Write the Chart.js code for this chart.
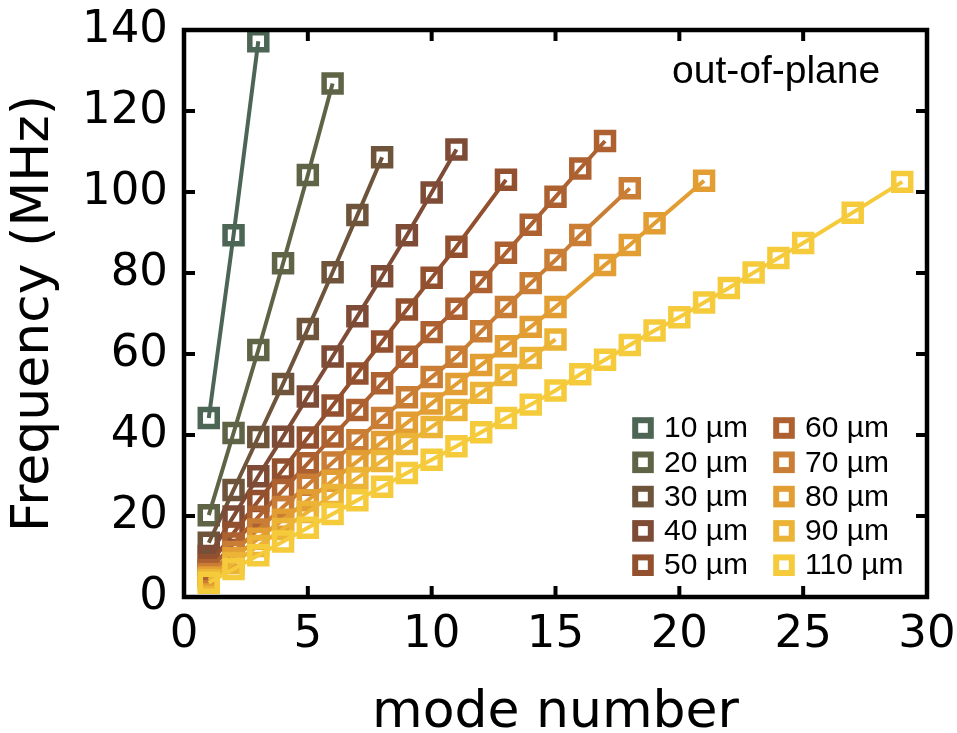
<!DOCTYPE html>
<html>
<head>
<meta charset="utf-8">
<script src="https://cdn.jsdelivr.net/npm/chart.js@4/dist/chart.umd.min.js"></script>
<style>
  html, body { margin: 0; padding: 0; background: #fff; }
  #wrap { width: 957px; height: 733px; }
</style>
</head>
<body>
<div id="wrap"><canvas id="modeChart" width="957" height="733"></canvas></div>
<script>
// membrane widths and their colours
var labels = ['10 µm', '20 µm', '30 µm', '40 µm', '50 µm', '60 µm', '70 µm', '80 µm', '90 µm', '110 µm'];
var colors = ['#4c6555', '#5f6446', '#6d543b', '#7d4b36', '#93502f', '#ad6131', '#c97d35', '#e29d33', '#ecb436', '#f5cb3c'];

// mode number / frequency (MHz)
var modes10 = [1, 2, 3];
var freq10  = [44.2, 89.3, 137.2];
var modes20 = [1, 2, 3, 4, 5, 6];
var freq20  = [20.2, 40.5, 61.0, 82.4, 104.2, 126.8];
var modes30 = [1, 2, 3, 4, 5, 6, 7, 8];
var freq30  = [13.4, 26.4, 39.5, 52.6, 66.2, 80.2, 94.3, 108.6];
var modes40 = [1, 2, 3, 4, 5, 6, 7, 8, 9, 10, 11];
var freq40  = [10.1, 19.9, 29.8, 39.6, 49.5, 59.4, 69.3, 79.2, 89.3, 99.9, 110.5];
var modes50 = [1, 2, 3, 4, 5, 6, 7, 8, 9, 10, 11, 13];
var freq50  = [7.9, 15.8, 23.7, 31.5, 39.4, 47.3, 55.2, 63.1, 71.0, 78.8, 86.5, 103.0];
var modes60 = [1, 2, 3, 4, 5, 6, 7, 8, 9, 10, 11, 12, 13, 14, 15, 16, 17];
var freq60  = [6.6, 13.2, 19.8, 26.4, 33.0, 39.6, 46.2, 52.8, 59.3, 65.4, 71.2, 77.8, 85.0, 91.9, 98.8, 105.8, 112.6];
var modes70 = [1, 2, 3, 4, 5, 6, 7, 8, 9, 10, 11, 12, 13, 14, 15, 16, 18];
var freq70  = [5.6, 11.1, 16.7, 22.2, 27.7, 33.2, 38.7, 44.2, 49.3, 54.3, 59.3, 65.6, 71.6, 77.5, 83.2, 89.4, 100.9];
var modes80 = [1, 2, 3, 4, 5, 6, 7, 8, 9, 10, 11, 12, 13, 14, 15, 17, 18, 19, 21];
var freq80  = [4.8, 9.6, 14.4, 19.1, 23.9, 28.7, 33.5, 38.3, 43.0, 47.8, 52.6, 57.3, 61.9, 66.7, 71.6, 82.0, 86.9, 92.3, 102.8];
var modes90 = [1, 2, 3, 4, 5, 6, 7, 8, 9, 10, 11, 12, 13, 14, 15];
var freq90  = [4.2, 8.4, 12.6, 16.8, 21.0, 25.2, 29.4, 33.6, 37.8, 42.0, 46.2, 50.4, 54.8, 59.0, 63.6];
var modes110 = [1, 2, 3, 4, 5, 6, 7, 8, 9, 10, 11, 12, 13, 14, 15, 16, 17, 18, 19, 20, 21, 22, 23, 24, 25, 27, 29];
var freq110  = [3.5, 6.9, 10.3, 13.7, 17.1, 20.5, 23.9, 27.2, 30.6, 33.9, 37.2, 40.7, 44.2, 47.5, 51.0, 55.0, 58.6, 62.2, 65.8, 69.1, 72.7, 76.3, 80.1, 83.7, 87.4, 94.9, 102.5];

// axis ticks
var xTicks = [0, 5, 10, 15, 20, 25, 30];
var yTicks = [0, 20, 40, 60, 80, 100, 120, 140];

var allModes = [modes10, modes20, modes30, modes40, modes50, modes60, modes70, modes80, modes90, modes110];
var allFreq  = [freq10, freq20, freq30, freq40, freq50, freq60, freq70, freq80, freq90, freq110];

var datasets = labels.map(function(lab, i) {
  return {
    label: lab,
    data: allModes[i].map(function(m, j) { return {x: m, y: allFreq[i][j]}; }),
    borderColor: colors[i],
    backgroundColor: colors[i],
    borderWidth: 4,
    pointStyle: 'rect',
    pointRadius: 12,
    pointBorderWidth: 5.5,
    pointBorderColor: colors[i],
    pointBackgroundColor: 'rgba(0,0,0,0)',
    tension: 0,
    order: labels.length - i   // later (wider) membranes drawn on top
  };
});

// no extra label padding, so the plot box sits where the layout padding says
function noPad(s) {
  s.paddingTop = 0; s.paddingBottom = 0; s.paddingLeft = 0; s.paddingRight = 0;
}

// frame with inward ticks on all four sides
var framePlugin = {
  id: 'frame',
  afterDraw: function(chart) {
    var ctx = chart.ctx, a = chart.chartArea;
    var xs = chart.scales.x, ys = chart.scales.y;
    ctx.save();
    ctx.strokeStyle = '#000';
    ctx.lineWidth = 4;
    ctx.beginPath();
    xTicks.forEach(function(v) {
      var px = xs.getPixelForValue(v);
      ctx.moveTo(px, a.bottom); ctx.lineTo(px, a.bottom - 11);
      ctx.moveTo(px, a.top); ctx.lineTo(px, a.top + 11);
    });
    yTicks.forEach(function(v) {
      var py = ys.getPixelForValue(v);
      ctx.moveTo(a.left, py); ctx.lineTo(a.left + 11, py);
      ctx.moveTo(a.right, py); ctx.lineTo(a.right - 11, py);
    });
    ctx.stroke();
    ctx.lineWidth = 4.5;
    ctx.strokeRect(a.left, a.top, a.right - a.left, a.bottom - a.top);

    // annotation
    ctx.fillStyle = '#000';
    ctx.font = '39px "Liberation Sans", Arial, sans-serif';
    ctx.textAlign = 'left';
    ctx.textBaseline = 'alphabetic';
    ctx.fillText('out-of-plane', 672, 83);

    // two-column legend
    ctx.font = '30px "Liberation Sans", Arial, sans-serif';
    ctx.textBaseline = 'middle';
    chart.data.datasets.forEach(function(ds, i) {
      var col = i < 5 ? 0 : 1, row = i % 5;
      var cx = col === 0 ? 643 : 784;
      var cy = 428 + row * 34.3;
      ctx.strokeStyle = ds.borderColor;
      ctx.lineWidth = 6;
      ctx.strokeRect(cx - 7.8, cy - 7.8, 15.6, 15.6);
      ctx.fillStyle = '#000';
      ctx.fillText(ds.label, cx + 21, cy + 1);
    });
    ctx.restore();
  }
};

var ctx = document.getElementById('modeChart').getContext('2d');
new Chart(ctx, {
  type: 'line',
  data: { datasets: datasets },
  options: {
    responsive: false,
    animation: false,
    devicePixelRatio: 1,
    events: [],
    layout: { padding: { top: 30, right: 30, left: 0, bottom: 0 } },
    plugins: { legend: { display: false }, tooltip: { enabled: false } },
    scales: {
      x: {
        type: 'linear',
        min: 0, max: 30,
        afterFit: function(s) { s.height = 136; noPad(s); },
        afterBuildTicks: function(s) { s.ticks = xTicks.map(function(v) { return {value: v}; }); },
        grid: { display: false, drawTicks: false },
        border: { display: false },
        ticks: { color: '#000', padding: 11, maxRotation: 0, font: { family: 'DejaVu Sans', size: 45 } },
        title: { display: true, text: 'mode number', color: '#000',
                 font: { family: 'DejaVu Sans', size: 52, lineHeight: 1 }, padding: { top: 0, bottom: -6 } }
      },
      y: {
        type: 'linear',
        min: 0, max: 140,
        afterFit: function(s) { s.width = 184; noPad(s); },
        afterBuildTicks: function(s) { s.ticks = yTicks.map(function(v) { return {value: v}; }); },
        grid: { display: false, drawTicks: false },
        border: { display: false },
        ticks: { color: '#000', padding: 16, font: { family: 'DejaVu Sans', size: 45 } },
        title: { display: true, text: 'Frequency (MHz)', color: '#000',
                 font: { family: 'DejaVu Sans', size: 52, lineHeight: 1 }, padding: { top: 8, bottom: 0 } }
      }
    }
  },
  plugins: [framePlugin]
});
</script>
</body>
</html>
